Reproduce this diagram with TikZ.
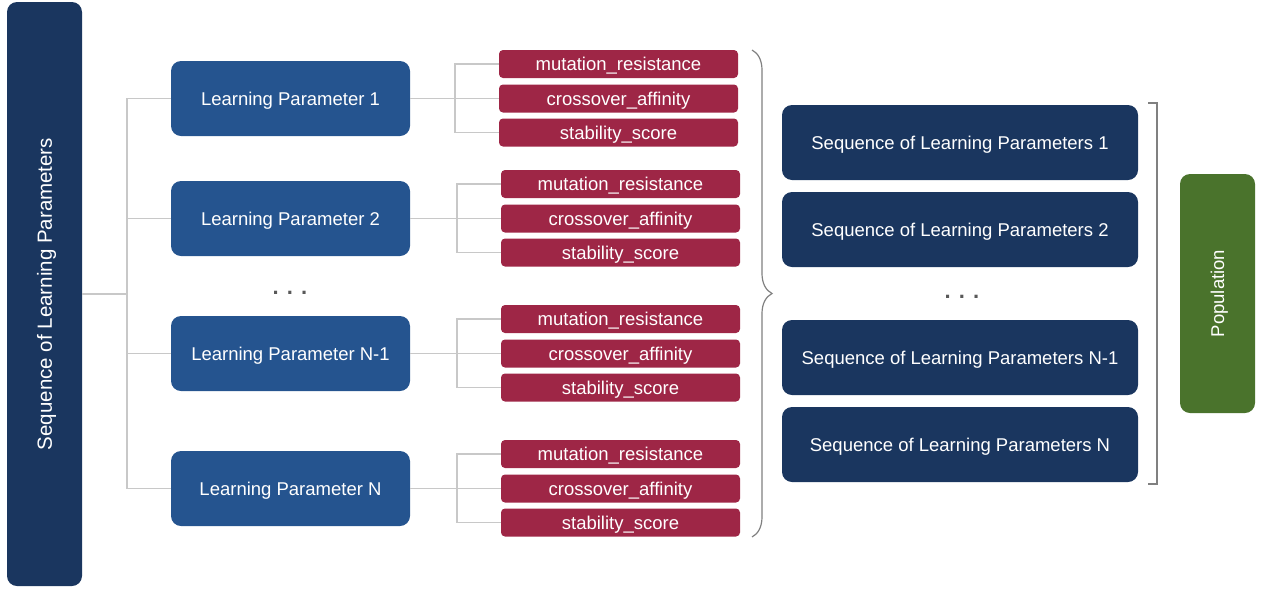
\documentclass[tikz,border=0pt]{standalone}
\usepackage{fontspec}
\setmainfont{Liberation Sans}
\usetikzlibrary{positioning}
\usetikzlibrary{decorations.pathreplacing}
\definecolor{seqblue}{HTML}{1A365F}
\definecolor{parblue}{HTML}{25548F}
\definecolor{attrred}{HTML}{9E2646}
\definecolor{popgreen}{HTML}{4A732C}
\definecolor{linkgray}{HTML}{C8C8C8}
\definecolor{bracegray}{HTML}{808080}
\tikzset {
  % plain box with white text
  block/.style = {
    draw = none,
    text = white,
    inner sep = 0,
    text height = 13pt,
    text depth = 0pt,
    font = \fontsize{18.5}{20}\selectfont
  },
  % sequence of parameters
  seqbox/.style = {
    block,
    fill = seqblue,
    rounded corners = 10pt,
    minimum width = 356pt,
    minimum height = 75pt
  },
  % one learning parameter
  parbox/.style = {
    block,
    fill = parblue,
    rounded corners = 10pt,
    minimum width = 239pt,
    minimum height = 75pt
  },
  % attribute of a parameter
  attrbox/.style = {
    block,
    fill = attrred,
    rounded corners = 4pt,
    minimum width = 239pt,
    minimum height = 28pt
  },
  % tall rotated box
  sidebox/.style = {
    block,
    rotate = 90,
    rounded corners = 10pt,
    minimum height = 75pt
  },
  link/.style = {
    draw = linkgray,
    line width = 1.2pt
  },
  skip/.style = {
    text = black!65,
    font = \fontsize{22}{22}\bfseries
  }
}
\begin{document}
\begin{tikzpicture}[x=1pt, y=-1pt]
    \useasboundingbox (0,0) rectangle (1262,590);

    \node[sidebox, fill=seqblue, minimum width=584pt, text height=14.5pt,
      font=\fontsize{20.5}{22}\selectfont] (root) at (44.5,294) {Sequence of Learning Parameters};
    \coordinate (trunk) at (127,294);
    \draw[link] (root) -- (trunk);

    \foreach \i/\txt/\y/\x in {1/Learning Parameter 1/98.5/618.5,
                               2/Learning Parameter 2/218.5/620.5,
                               3/Learning Parameter N-1/353.5/620.5,
                               4/Learning Parameter N/488.5/620.5} {
      \node[parbox] (par\i) at (290.5,\y) {\txt};
      \node[attrbox] (mut\i) at (\x,\y-34.5) {mutation\_resistance};
      \node[attrbox] (cross\i) at (\x,\y) {crossover\_affinity};
      \node[attrbox] (stab\i) at (\x,\y+34) {stability\_score};
      \coordinate (fork\i) at (\x-163.5,\y);

      \draw[link] (par\i.west) -| (trunk);
      \draw[link] (par\i) -- (fork\i) -- (cross\i);
      \draw[link] (mut\i.west) -| (fork\i) |- (stab\i.west);
    }
    \node[skip] (parskip) at (290,293) {. . .};

    \coordinate (bracetop) at (752,50);
    \coordinate (bracebot) at (752,537);
    \draw[bracegray, line width=1.2pt, decorate, decoration={brace, amplitude=20pt}] (bracetop) -- (bracebot);

    \node[seqbox] (seq1) at (960,142.5) {Sequence of Learning Parameters 1};
    \node[seqbox] (seq2) at (960,229.5) {Sequence of Learning Parameters 2};
    \node[skip] (seqskip) at (962,297) {. . .};
    \node[seqbox] (seq3) at (960,357.5) {Sequence of Learning Parameters N-1};
    \node[seqbox] (seq4) at (960,444.5) {Sequence of Learning Parameters N};

    \coordinate (bracktop) at (1148,103);
    \coordinate (brackbot) at (1148,484);
    \draw[bracegray, line width=1.2pt] (bracktop) -- ++(9,0) |- (brackbot);

    \node[sidebox, fill=popgreen, minimum width=239pt] (pop) at (1217.5,293.5) {Population};
  \end{tikzpicture}
\end{document}
